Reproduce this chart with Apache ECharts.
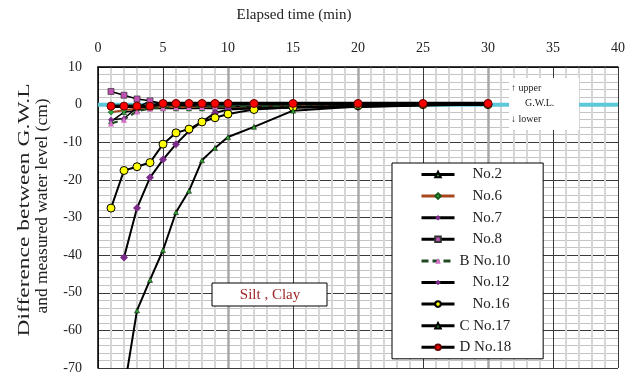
<!DOCTYPE html>
<html><head><meta charset="utf-8">
<script src="https://cdn.jsdelivr.net/npm/echarts@6/dist/echarts.min.js"></script>
<style>html,body{margin:0;padding:0;background:#fff}#c{width:635px;height:378px}</style>
</head><body><div id="c"></div>
<script>
// ---- data ----
const xTicks = [0, 5, 10, 15, 20, 25, 30, 35, 40];
const yTicks = [10, 0, -10, -20, -30, -40, -50, -60, -70];
const seriesNames = ['No.2', 'No.6', 'No.7', 'No.8', 'B No.10', 'No.12', 'No.16', 'C No.17', 'D No.18'];

const gwlT = [0, 40];
const gwlV = [0, 0];

const no2T = [1, 2, 3, 4, 5, 6, 7, 8, 9, 10, 12, 15, 20, 25, 30];
const no2V = [-4.5, -2, -1.5, -1, -1, -1, -1, -1, -1, -1, -0.8, -0.6, -0.3, 0, 0];
const no6T = [1, 2, 3, 4, 5, 6, 7, 8, 9, 10, 12, 15, 20, 25, 30];
const no6V = [-2, -1.5, -1, -0.7, -0.6, -0.6, -0.6, -0.6, -0.6, -0.6, -0.5, -0.3, -0.1, 0, 0];
const no7T = [1, 2, 3, 4, 5, 6, 7, 8, 9, 10, 12, 15, 20, 25, 30];
const no7V = [-4, -3.7, -0.8, 1, 0, -0.2, -0.3, -0.4, -0.5, -0.5, -0.6, -0.6, -0.6, -0.2, 0];
const no8T = [1, 2, 3, 4, 5, 6, 7, 8, 9, 10, 12, 15];
const no8V = [3.5, 2.5, 1.5, 1, 0.3, 0.2, 0, 0, 0, 0, 0, 0];
const no10T = [1, 2, 3, 4, 5, 6, 7, 8, 9, 10, 12, 15, 20, 25, 30];
const no10V = [-5, -4, -1.8, -1, -0.8, -0.7, -0.6, -0.6, -0.5, -0.5, -0.4, -0.3, -0.1, 0, 0];
const no12T = [2, 3, 4, 5, 6, 7, 8, 9, 10, 12, 15, 20, 25, 30];
const no12V = [-40.6, -27.5, -19.4, -14.6, -10.5, -7, -4.6, -2.2, -1.3, -1, -0.8, -0.6, -0.2, 0];
const no16T = [1, 2, 3, 4, 5, 6, 7, 8, 9, 10, 12, 15, 20, 25, 30];
const no16V = [-27.5, -17.5, -16.5, -15.4, -10.5, -7.5, -6.5, -4.6, -3.5, -2.5, -1.3, -0.7, -0.3, 0, 0];
const no17T = [2, 3, 4, 5, 6, 7, 8, 9, 10, 12, 15, 20, 25, 30];
const no17V = [-76, -54.7, -46.6, -38.7, -28.6, -22.9, -14.8, -11.5, -8.6, -5.9, -1.6, -0.5, 0, 0];
const no18T = [1, 2, 3, 4, 5, 6, 7, 8, 9, 10, 12, 15, 20, 25, 30];
const no18V = [-0.4, -0.4, -0.4, -0.4, 0.3, 0.3, 0.3, 0.3, 0.3, 0.3, 0.3, 0.3, 0.3, 0.3, 0.3];

// ---- chart ----
const FONT = 'Liberation Serif';
const pairs = (t, v) => t.map((x, i) => [x, v[i]]);

function line(name, t, v, o) {
  return Object.assign({
    type: 'line', name: name, data: pairs(t, v), clip: true,
    animation: false, emphasis: { disabled: true }
  }, o);
}

const series = [
  { type: 'line', name: 'G.W.L.', data: pairs(gwlT, gwlV), symbol: 'none', animation: false,
    silent: true, lineStyle: { color: '#5cc8d8', width: 4 }, z: 1 },
  line(seriesNames[0], no2T, no2V, { symbol: 'triangle', symbolSize: 5,
    lineStyle: { color: '#000', width: 1.5 }, itemStyle: { color: '#3cb44b', borderColor: '#000', borderWidth: 0.5 } }),
  line(seriesNames[1], no6T, no6V, { symbol: 'diamond', symbolSize: 6,
    lineStyle: { color: '#a8461c', width: 2 }, itemStyle: { color: '#2e9e3e', borderColor: '#1a5a1a', borderWidth: 0.5 } }),
  line(seriesNames[2], no7T, no7V, { symbol: 'diamond', symbolSize: 6,
    lineStyle: { color: '#000', width: 1.5 }, itemStyle: { color: '#7d2a8c' } }),
  line(seriesNames[3], no8T, no8V, { symbol: 'rect', symbolSize: 6,
    lineStyle: { color: '#000', width: 1.5 }, itemStyle: { color: '#c050b4', borderColor: '#333', borderWidth: 0.7 } }),
  line(seriesNames[4], no10T, no10V, { symbol: 'triangle', symbolSize: 6,
    lineStyle: { color: '#1f4a22', width: 2, type: [7, 4] }, itemStyle: { color: '#d36ec6' } }),
  line(seriesNames[5], no12T, no12V, { symbol: 'diamond', symbolSize: 8,
    lineStyle: { color: '#000', width: 2 }, itemStyle: { color: '#7b2c8b' } }),
  line(seriesNames[6], no16T, no16V, { symbol: 'circle', symbolSize: 8,
    lineStyle: { color: '#000', width: 2 }, itemStyle: { color: '#ffff00', borderColor: '#000', borderWidth: 1 } }),
  line(seriesNames[7], no17T, no17V, { symbol: 'triangle', symbolSize: 5,
    lineStyle: { color: '#000', width: 2 }, itemStyle: { color: '#2ca02c', borderColor: '#000', borderWidth: 0.5 } }),
  line(seriesNames[8], no18T, no18V, { symbol: 'circle', symbolSize: 8,
    lineStyle: { color: '#000', width: 3.5 }, itemStyle: { color: '#ff0000', borderColor: '#600', borderWidth: 1 } })
];

// measure text for y-axis name stretching
const mctx = document.createElement('canvas').getContext('2d');
function textW(txt, size) { mctx.font = size + 'px "' + FONT + '"'; return mctx.measureText(txt).width; }
const yName1 = 'Difference between G.W.L';
const yName2 = 'and measured water level (cm)';
const yNameSize = 16;

const chart = echarts.init(document.getElementById('c'), null, { renderer: 'canvas' });
chart.setOption({
  animation: false,
  backgroundColor: '#fff',
  grid: { left: 98, right: 17, top: 67, bottom: 10, containLabel: false },
  xAxis: [{
    type: 'value', position: 'top',
    min: xTicks[0], max: xTicks[xTicks.length - 1], interval: xTicks[1] - xTicks[0],
    axisLine: { onZero: false, lineStyle: { color: '#000', width: 1.5 } },
    axisTick: { show: false },
    axisLabel: { fontFamily: FONT, fontSize: 14, color: '#222', margin: 12 },
    splitLine: { show: true, lineStyle: { color: '#3a3a3a', width: 1 } },
    minorTick: { show: false, splitNumber: 5 },
    minorSplitLine: { show: true, lineStyle: { color: '#d6d6d6', width: 2 } }
  }, {
    type: 'value', position: 'top',
    min: xTicks[0], max: xTicks[xTicks.length - 1], interval: 10,
    axisLine: { show: false, onZero: false }, axisTick: { show: false }, axisLabel: { show: false },
    splitLine: { show: true, showMinLine: false, showMaxLine: false, lineStyle: { color: '#a8a8a8', width: 2.5 } }
  }],
  yAxis: {
    type: 'value',
    min: yTicks[yTicks.length - 1], max: yTicks[0], interval: yTicks[0] - yTicks[1],
    axisLine: { show: true, onZero: false, lineStyle: { color: '#000', width: 1.5 } },
    axisTick: { show: false },
    axisLabel: { fontFamily: FONT, fontSize: 14, color: '#222', margin: 16 },
    splitLine: { show: true, lineStyle: { color: '#3a3a3a', width: 1 } },
    minorTick: { show: false, splitNumber: 5 },
    minorSplitLine: { show: true, lineStyle: { color: '#c4c4c4', width: 1 } }
  },
  legend: {
    data: seriesNames, orient: 'vertical', left: 392, top: 163,
    padding: [4, 32, 4, 28], itemWidth: 33, itemHeight: 7, itemGap: 6.6,
    backgroundColor: '#fff', borderColor: '#000', borderWidth: 1,
    selectedMode: false, z: 20,
    lineStyle: { width: 3 },
    textStyle: { fontFamily: FONT, fontSize: 15, color: '#222', rich: { s: { width: 13, fontSize: 15 } } },
    formatter: function (n) { return /^[A-Z] /.test(n) ? n : '{s| }' + n; }
  },
  graphic: [
    { type: 'text', x: 294, y: 15, z: 30,
      style: { text: 'Elapsed time (min)', fontFamily: FONT, fontSize: 15, fill: '#222',
        textAlign: 'center', textVerticalAlign: 'middle', align: 'center', verticalAlign: 'middle' } },
    { type: 'text', x: 25, y: 210, rotation: Math.PI / 2, scaleX: 253 / textW(yName1, yNameSize), z: 30,
      style: { text: yName1, fontFamily: FONT, fontSize: yNameSize, fill: '#222',
        textAlign: 'center', textVerticalAlign: 'middle', align: 'center', verticalAlign: 'middle' } },
    { type: 'text', x: 43, y: 206, rotation: Math.PI / 2, scaleX: 215 / textW(yName2, yNameSize), z: 30,
      style: { text: yName2, fontFamily: FONT, fontSize: yNameSize, fill: '#222',
        textAlign: 'center', textVerticalAlign: 'middle', align: 'center', verticalAlign: 'middle' } },
    { type: 'rect', shape: { x: 212, y: 283, width: 115, height: 23 }, z: 30,
      style: { fill: '#fff', stroke: '#000', lineWidth: 1 } },
    { type: 'text', x: 270, y: 295, z: 31,
      style: { text: 'Silt , Clay', fontFamily: FONT, fontSize: 15, fill: '#a0282a',
        textAlign: 'center', textVerticalAlign: 'middle', align: 'center', verticalAlign: 'middle' } },
    { type: 'rect', shape: { x: 509, y: 78, width: 70, height: 52 }, z: 30,
      style: { fill: '#fff', lineWidth: 0 } },
    { type: 'text', x: 511, y: 88, z: 31,
      style: { text: '\u2191 upper', fontFamily: FONT, fontSize: 10, fill: '#222',
        textAlign: 'left', textVerticalAlign: 'middle', align: 'left', verticalAlign: 'middle' } },
    { type: 'text', x: 525, y: 103, z: 31,
      style: { text: 'G.W.L.', fontFamily: FONT, fontSize: 10, fill: '#222',
        textAlign: 'left', textVerticalAlign: 'middle', align: 'left', verticalAlign: 'middle' } },
    { type: 'text', x: 511, y: 119, z: 31,
      style: { text: '\u2193 lower', fontFamily: FONT, fontSize: 10, fill: '#222',
        textAlign: 'left', textVerticalAlign: 'middle', align: 'left', verticalAlign: 'middle' } }
  ],
  series: series
});
</script>
</body></html>
